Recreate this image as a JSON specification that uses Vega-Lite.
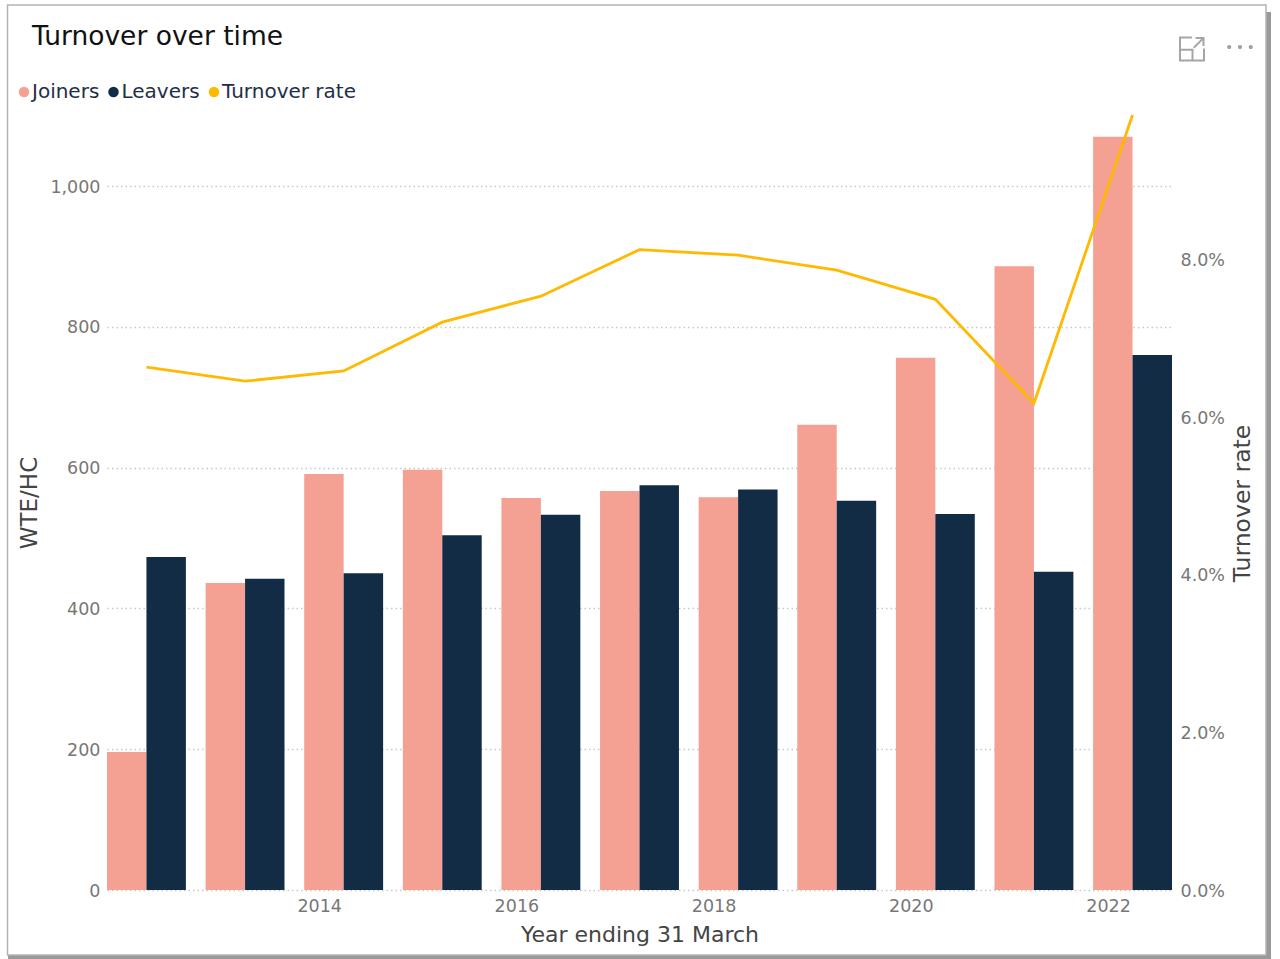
{
  "$schema": "https://vega.github.io/schema/vega-lite/v6.json",
  "width": 1065,
  "height": 775,
  "autosize": {"type": "none"},
  "padding": {"left": 107, "top": 115, "right": 108, "bottom": 69},
  "background": "white",
  "title": {
    "text": "Turnover over time",
    "anchor": "start",
    "frame": "group",
    "dx": -75,
    "offset": 0,
    "dy": 46,
    "font": "DejaVu Sans",
    "fontSize": 26.5,
    "fontWeight": "normal",
    "color": "#111111"
  },
  "config": {
    "view": {"stroke": null},
    "axis": {"labelFont": "DejaVu Sans", "titleFont": "DejaVu Sans", "titleFontWeight": "normal"}
  },
  "data": {
    "values": [
      {"year": "2012", "series": "Joiners", "value": 196},
      {"year": "2013", "series": "Joiners", "value": 436},
      {"year": "2014", "series": "Joiners", "value": 591},
      {"year": "2015", "series": "Joiners", "value": 597},
      {"year": "2016", "series": "Joiners", "value": 557},
      {"year": "2017", "series": "Joiners", "value": 567},
      {"year": "2018", "series": "Joiners", "value": 558},
      {"year": "2019", "series": "Joiners", "value": 661},
      {"year": "2020", "series": "Joiners", "value": 756},
      {"year": "2021", "series": "Joiners", "value": 886},
      {"year": "2022", "series": "Joiners", "value": 1070},
      {"year": "2012", "series": "Leavers", "value": 473},
      {"year": "2013", "series": "Leavers", "value": 442},
      {"year": "2014", "series": "Leavers", "value": 450},
      {"year": "2015", "series": "Leavers", "value": 504},
      {"year": "2016", "series": "Leavers", "value": 533},
      {"year": "2017", "series": "Leavers", "value": 575},
      {"year": "2018", "series": "Leavers", "value": 569},
      {"year": "2019", "series": "Leavers", "value": 553},
      {"year": "2020", "series": "Leavers", "value": 534},
      {"year": "2021", "series": "Leavers", "value": 452},
      {"year": "2022", "series": "Leavers", "value": 760},
      {"year": "2012", "series": "Turnover rate", "value": 0.0664},
      {"year": "2013", "series": "Turnover rate", "value": 0.0646},
      {"year": "2014", "series": "Turnover rate", "value": 0.0659},
      {"year": "2015", "series": "Turnover rate", "value": 0.0721},
      {"year": "2016", "series": "Turnover rate", "value": 0.0754},
      {"year": "2017", "series": "Turnover rate", "value": 0.0813},
      {"year": "2018", "series": "Turnover rate", "value": 0.0806},
      {"year": "2019", "series": "Turnover rate", "value": 0.0787},
      {"year": "2020", "series": "Turnover rate", "value": 0.075},
      {"year": "2021", "series": "Turnover rate", "value": 0.0618},
      {"year": "2022", "series": "Turnover rate", "value": 0.0984}
    ]
  },
  "encoding": {
    "x": {
      "field": "year",
      "type": "ordinal",
      "scale": {"paddingInner": 0.2, "paddingOuter": 0},
      "axis": {
        "title": "Year ending 31 March",
        "titleFontSize": 22,
        "titleColor": "#444444",
        "titlePadding": 10,
        "values": ["2014", "2016", "2018", "2020", "2022"],
        "labelAngle": 0,
        "labelOffset": -24,
        "labelPadding": 7,
        "labelFontSize": 17.5,
        "labelColor": "#777777",
        "ticks": false,
        "domain": false,
        "grid": false
      }
    }
  },
  "layer": [
    {
      "transform": [{"filter": "datum.series !== 'Turnover rate'"}],
      "mark": {"type": "bar"},
      "encoding": {
        "xOffset": {"field": "series", "type": "nominal", "sort": ["Joiners", "Leavers"], "scale": {"paddingInner": 0, "paddingOuter": 0}},
        "y": {
          "field": "value",
          "type": "quantitative",
          "scale": {"domain": [0, 1101], "nice": false},
          "axis": {
            "title": "WTE/HC",
            "titleFontSize": 23,
            "titleColor": "#444444",
            "titlePadding": 8,
            "values": [0, 200, 400, 600, 800, 1000],
            "format": ",d",
            "labelFontSize": 17.5,
            "labelColor": "#777777",
            "labelPadding": 7,
            "labelOffset": 1,
            "ticks": false,
            "domain": false,
            "grid": true,
            "gridColor": "#c8c8c8",
            "gridDash": [1.5, 3],
            "gridWidth": 1.5
          }
        },
        "color": {
          "field": "series",
          "type": "nominal",
          "scale": {
            "domain": ["Joiners", "Leavers", "Turnover rate"],
            "range": ["#F4A093", "#122C46", "#FFB900"]
          },
          "legend": {
            "title": null,
            "orient": "none",
            "legendX": -93,
            "legendY": -33,
            "direction": "horizontal",
            "symbolType": "circle",
            "symbolSize": 110,
            "symbolStrokeWidth": 0,
            "labelFont": "DejaVu Sans",
            "labelFontSize": 20,
            "labelColor": "#1e2f45",
            "labelOffset": -2,
            "columnPadding": 3.5
          }
        }
      }
    },
    {
      "transform": [{"filter": "datum.series === 'Turnover rate'"}],
      "mark": {"type": "line", "strokeWidth": 2.8, "interpolate": "linear", "clip": false},
      "encoding": {
        "y": {
          "field": "value",
          "type": "quantitative",
          "scale": {"domain": [0, 0.0984], "nice": false},
          "axis": {
            "orient": "right",
            "title": "Turnover rate",
            "titleAngle": 270,
            "titleFontSize": 23.5,
            "titleColor": "#444444",
            "titleBaseline": "top",
            "titlePadding": 6,
            "titleY": 388,
            "values": [0, 0.02, 0.04, 0.06, 0.08],
            "format": ".1%",
            "labelFontSize": 17.5,
            "labelColor": "#777777",
            "labelPadding": 8,
            "labelOffset": 1,
            "ticks": false,
            "domain": false,
            "grid": false
          }
        },
        "color": {"field": "series", "type": "nominal", "legend": null}
      }
    },
    {
      "data": {"values": [{"part": "panel"}]},
      "mark": {"type": "rect", "fill": "#999999", "clip": false},
      "encoding": {
        "x": {"value": 1159},
        "x2": {"value": 1164},
        "y": {"value": -103},
        "y2": {"value": 844}
      }
    },
    {
      "data": {"values": [{"part": "panel"}]},
      "mark": {"type": "rect", "fill": "#999999", "clip": false},
      "encoding": {
        "x": {"value": -99},
        "x2": {"value": 1164},
        "y": {"value": 840},
        "y2": {"value": 844}
      }
    },
    {
      "data": {"values": [{"part": "panel"}]},
      "mark": {"type": "rect", "fill": null, "stroke": "#b4b4b4", "strokeWidth": 1.5, "clip": false},
      "encoding": {
        "x": {"value": -99.5},
        "x2": {"value": 1159},
        "y": {"value": -110},
        "y2": {"value": 840}
      }
    },
    {
      "data": {"values": [{"part": "expand icon"}]},
      "mark": {
        "type": "point",
        "shape": "M-0.05,-0.92 L-1,-0.92 L-1,0.92 L0.92,0.92 L0.92,-0.05 M-1,0.05 L0,0.05 L0,0.92 M0.1,-0.1 L0.85,-0.85 M0.25,-0.88 L0.88,-0.88 L0.88,-0.25",
        "filled": false,
        "stroke": "#808080",
        "strokeWidth": 2,
        "size": 625,
        "clip": false
      },
      "encoding": {"x": {"value": 1085.5}, "y": {"value": -66}}
    },
    {
      "data": {"values": [{"part": "more icon"}]},
      "mark": {
        "type": "point",
        "shape": "M-0.99,0 a0.16,0.16 0 1,0 0.32,0 a0.16,0.16 0 1,0 -0.32,0 M-0.16,0 a0.16,0.16 0 1,0 0.32,0 a0.16,0.16 0 1,0 -0.32,0 M0.67,0 a0.16,0.16 0 1,0 0.32,0 a0.16,0.16 0 1,0 -0.32,0",
        "filled": true,
        "fill": "#777777",
        "size": 676,
        "clip": false
      },
      "encoding": {"x": {"value": 1133}, "y": {"value": -68}}
    }
  ],
  "resolve": {"scale": {"y": "independent"}}
}
